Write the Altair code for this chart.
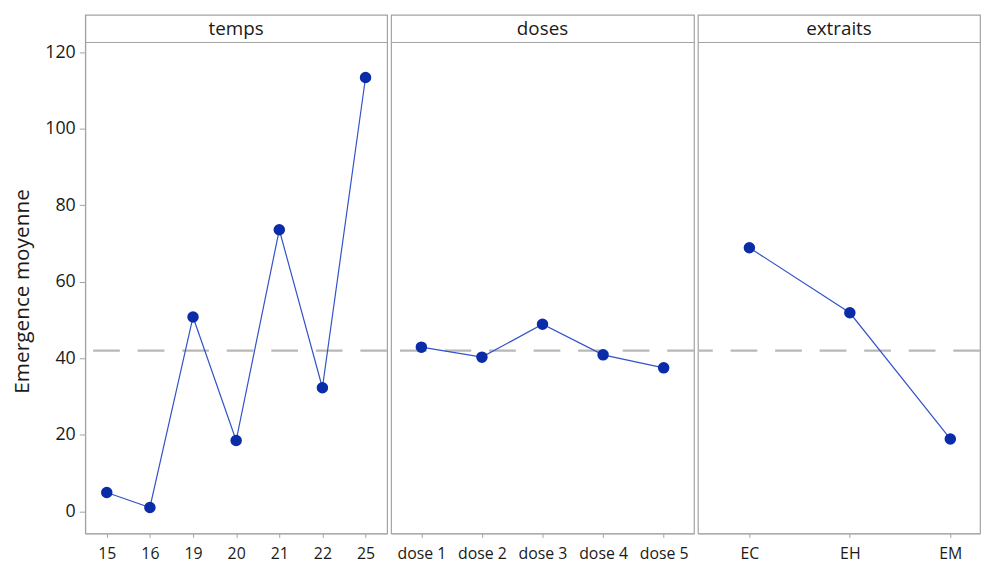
import altair as alt
import pandas as pd

# ---- data ----
temps_levels = ["15", "16", "19", "20", "21", "22", "25"]
temps_values = [4.9, 1.0, 50.8, 18.5, 73.6, 32.3, 113.4]

doses_levels = ["dose 1", "dose 2", "dose 3", "dose 4", "dose 5"]
doses_values = [42.9, 40.3, 48.9, 40.9, 37.5]

extraits_levels = ["EC", "EH", "EM"]
extraits_values = [68.9, 51.9, 18.9]

grand_mean = [42.0]
y_ticks = [0, 20, 40, 60, 80, 100, 120]
panel_titles = ["temps", "doses", "extraits"]

# ---- style ----
FONT = "Open Sans"
TXT = "#1a1a1a"
BORDER = "#a3a3a3"
LINE_BLUE = "#3352c8"
PT_BLUE = "#0a2ca8"
Y_DOMAIN = [-5.8, 129.8]
PLOT_H = 524
HEADER_Y = 28


def panel(levels, values, title, width, show_y, pad, align):
    df = pd.DataFrame({"niveau": levels, "moyenne": values})
    xenc = alt.X(
        "niveau:N",
        sort=levels,
        scale=alt.Scale(type="point", padding=pad, align=align),
        axis=alt.Axis(title=None, labelAngle=0, labelFont=FONT, labelFontSize=16,
                      labelColor=TXT, tickColor=BORDER, tickSize=4, labelPadding=8,
                      domainColor=BORDER, grid=False),
    )
    if show_y:
        yaxis = alt.Axis(values=y_ticks, title="Emergence moyenne", grid=False,
                         labelFont=FONT, labelFontSize=18, labelColor=TXT,
                         labelPadding=4, tickColor=BORDER, tickSize=6,
                         domainColor=BORDER, titleFont=FONT, titleFontSize=21,
                         titleFontWeight="normal", titleColor=TXT,
                         titleX=-63, titleY=279, titleBaseline="middle",
                         titleAngle=270, titleAlign="center")
    else:
        yaxis = None
    yscale = alt.Scale(domain=Y_DOMAIN, nice=False, zero=False)
    yenc = alt.Y("moyenne:Q", scale=yscale, axis=yaxis)

    mean_df = pd.DataFrame({"moyenne": grand_mean})
    mean_rule = alt.Chart(mean_df).mark_rule(
        color="#b8b8b8", strokeWidth=2.5, strokeDash=[27, 18]
    ).encode(y=alt.Y("moyenne:Q", scale=yscale, axis=yaxis))

    line = alt.Chart(df).mark_line(color=LINE_BLUE, strokeWidth=1.2).encode(x=xenc, y=yenc)
    pts = alt.Chart(df).mark_point(filled=True, size=135, color=PT_BLUE, opacity=1).encode(
        x=xenc, y=yenc)

    head_df = pd.DataFrame({"titre": [title]})
    head_rule = alt.Chart(head_df).mark_rule(color=BORDER, strokeWidth=1.2).encode(
        x=alt.value(0), x2=alt.value(width), y=alt.value(HEADER_Y))
    head_text = alt.Chart(head_df).mark_text(
        font=FONT, fontSize=19, color=TXT, baseline="middle", align="center"
    ).encode(text="titre:N", x=alt.value(width / 2), y=alt.value(HEADER_Y / 2 + 0.5))

    return alt.layer(mean_rule, line, pts, head_rule, head_text).properties(
        width=width, height=PLOT_H)


p1 = panel(temps_levels, temps_values, panel_titles[0], 305, True, 0.5, 0.5)
p2 = panel(doses_levels, doses_values, panel_titles[1], 306, False, 0.5, 0.5)
p3 = panel(extraits_levels, extraits_values, panel_titles[2], 285, False, 0.404, 0.634)

chart = alt.hconcat(p1, p2, p3, spacing=0).properties(
    padding={"left": 3, "top": 3, "right": 0, "bottom": 0},
    background="white",
).configure_view(stroke=BORDER, strokeWidth=1.2).resolve_scale(x="independent")

chart.save("out.html", embed_options={"renderer": "svg", "actions": False})
